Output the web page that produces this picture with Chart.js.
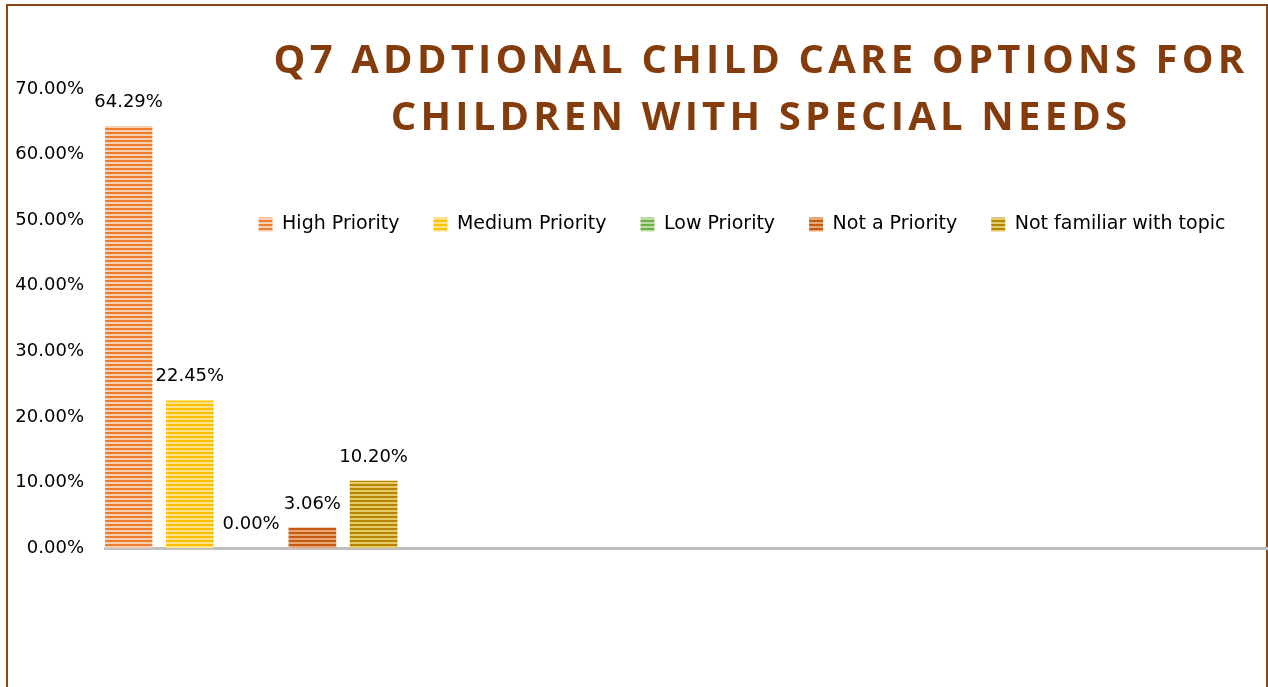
<!DOCTYPE html>
<html>
<head>
<meta charset="utf-8">
<script src="https://cdn.jsdelivr.net/npm/chart.js@4.4.1/dist/chart.umd.min.js"></script>
<style>
  html, body { margin: 0; padding: 0; background: #fff; overflow: hidden; }
  #frame { position: absolute; left: 6px; top: 4px; width: 1258px; height: 720px; border: 2px solid #8b4513; }
  #wrap { position: absolute; left: 0; top: 0; width: 1268px; height: 687px; }
</style>
</head>
<body>
<div id="frame"></div>
<div id="wrap"><canvas id="chart"></canvas></div>
<script>
const categories = ['High Priority', 'Medium Priority', 'Low Priority', 'Not a Priority', 'Not familiar with topic'];
const values = [64.29, 22.45, 0.00, 3.06, 10.20];
const yTicks = [0, 10, 20, 30, 40, 50, 60, 70];
const titleLines = ['Q7 ADDTIONAL CHILD CARE OPTIONS FOR', 'CHILDREN WITH SPECIAL NEEDS'];
const darkColors = ['#ed7d31', '#ffc000', '#70ad47', '#c55a11', '#b38600'];
const lightColors = ['#f9d0b0', '#ffe38a', '#bcdca6', '#e8a878', '#e6ca6a'];

const FONT = '"DejaVu Sans", sans-serif';

// horizontal stripe fill like the Excel pattern
function stripes(dark, light) {
  const c = document.createElement('canvas');
  c.width = 4; c.height = 4;
  const g = c.getContext('2d');
  g.fillStyle = light;
  g.fillRect(0, 0, 4, 4);
  g.fillStyle = dark;
  g.fillRect(0, 0, 4, 2);
  return g.createPattern(c, 'repeat');
}

const valueLabels = {
  id: 'valueLabels',
  afterDatasetsDraw(chart) {
    const ctx = chart.ctx;
    ctx.save();
    ctx.font = '18px ' + FONT;
    ctx.fillStyle = '#000';
    ctx.textAlign = 'center';
    ctx.textBaseline = 'middle';
    chart.data.datasets.forEach((ds, i) => {
      chart.getDatasetMeta(i).data.forEach((bar, j) => {
        ctx.fillText(ds.data[j].y.toFixed(2) + '%', bar.x, bar.y - 24);
      });
    });
    ctx.restore();
  }
};

const titleText = {
  id: 'titleText',
  afterDraw(chart) {
    const ctx = chart.ctx;
    ctx.save();
    ctx.font = 'bold 40px "Open Sans", sans-serif';
    ctx.letterSpacing = '4.2px';
    ctx.fillStyle = '#843c0c';
    ctx.textAlign = 'center';
    ctx.textBaseline = 'middle';
    titleLines.forEach((t, i) => ctx.fillText(t, 761, 62 + i * 57));
    ctx.restore();
  }
};

// the legend overlaps the plot, right of centre, so move it after layout
const legendShift = {
  id: 'legendShift',
  afterLayout(chart) {
    const lg = chart.legend;
    const dx = 108, dy = 155;
    lg.left += dx; lg.right += dx;
    lg.top += dy; lg.bottom += dy;
  }
};

new Chart(document.getElementById('chart'), {
  type: 'bar',
  data: {
    datasets: categories.map((c, i) => ({
      label: c,
      data: [{ x: i, y: values[i] }],
      backgroundColor: stripes(darkColors[i], lightColors[i]),
      borderWidth: 0,
      barThickness: 47,
      grouped: false
    }))
  },
  options: {
    responsive: true,
    maintainAspectRatio: false,
    animation: false,
    layout: { padding: { top: 26, left: 0, right: 0, bottom: 0 } },
    scales: {
      x: {
        type: 'linear',
        offset: false,
        min: -0.385,
        max: 18.6,
        grid: { display: false, drawTicks: false },
        border: { display: true, color: '#bfbfbf', width: 3 },
        ticks: { display: false, stepSize: 2, includeBounds: false },
        afterFit: s => { s.height = 139; }
      },
      y: {
        min: 0,
        max: 70,
        grid: { display: false, drawTicks: false },
        border: { display: false },
        ticks: {
          padding: 21,
          color: '#000',
          font: { family: FONT, size: 18 },
          callback: v => v.toFixed(2) + '%'
        },
        afterBuildTicks: s => { s.ticks = yTicks.map(v => ({ value: v })); },
        afterFit: s => { s.width = 105; }
      }
    },
    plugins: {
      legend: {
        position: 'top',
        align: 'center',
        labels: {
          boxWidth: 14,
          boxHeight: 14,
          padding: 34,
          color: '#000',
          font: { family: FONT, size: 19 }
        }
      },
      tooltip: { enabled: false }
    }
  },
  plugins: [valueLabels, titleText, legendShift]
});
</script>
</body>
</html>
